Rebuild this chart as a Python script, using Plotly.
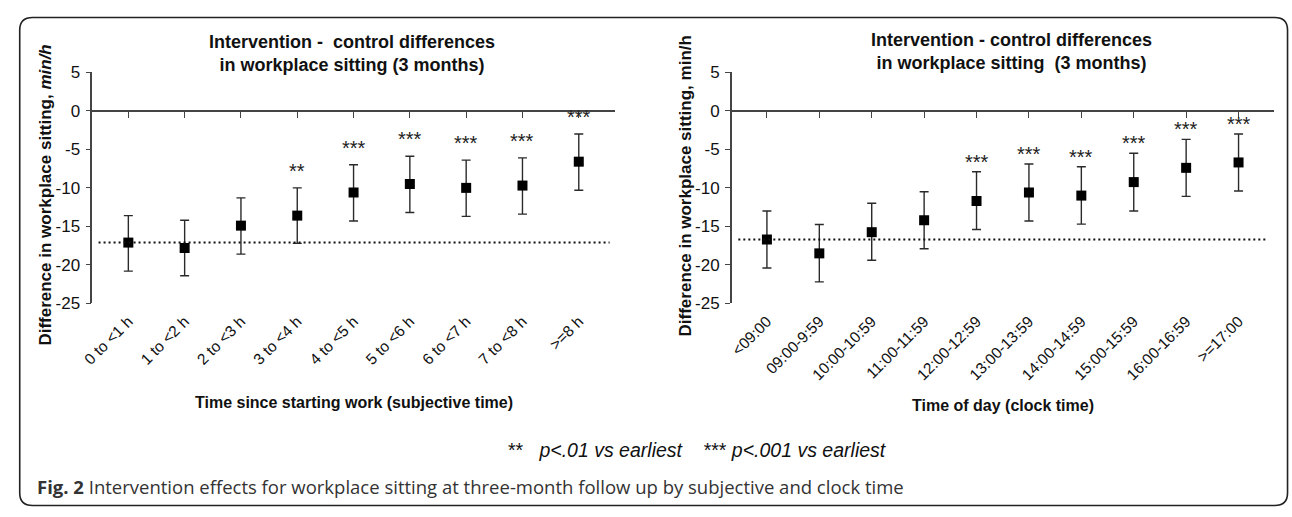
import plotly.graph_objects as go

# ---------------- data ----------------
left_cats = ["0 to <1 h", "1 to <2 h", "2 to <3 h", "3 to <4 h", "4 to <5 h",
             "5 to <6 h", "6 to <7 h", "7 to <8 h", ">=8 h"]
left_mean = [-17.1, -17.8, -14.9, -13.6, -10.6, -9.5, -10.0, -9.7, -6.6]
left_upper = [-13.6, -14.2, -11.3, -10.0, -7.0, -5.9, -6.4, -6.1, -3.0]
left_lower = [-20.8, -21.4, -18.6, -17.2, -14.3, -13.2, -13.7, -13.4, -10.3]
left_sig = ["", "", "", "**", "***", "***", "***", "***", "***"]

right_cats = ["<09:00", "09:00-9:59", "10:00-10:59", "11:00-11:59", "12:00-12:59",
              "13:00-13:59", "14:00-14:59", "15:00-15:59", "16:00-16:59", ">=17:00"]
right_mean = [-16.7, -18.5, -15.75, -14.2, -11.7, -10.6, -11.0, -9.25, -7.4, -6.7]
right_upper = [-13.0, -14.75, -12.0, -10.5, -7.9, -6.9, -7.25, -5.5, -3.7, -3.0]
right_lower = [-20.4, -22.2, -19.4, -17.9, -15.4, -14.3, -14.7, -13.0, -11.1, -10.4]
right_sig = ["", "", "", "", "***", "***", "***", "***", "***", "***"]

y_ticks = [-25, -20, -15, -10, -5, 0, 5]
y_ticklabels = ["-25", "-20", "-15", "-10", "-5", "0", "5"]

left_title = "Intervention -  control differences<br>in workplace sitting (3 months)"
right_title = "Intervention - control differences<br>in workplace sitting  (3 months)"
left_ytitle = "Difference in workplace sitting, <i>min/h</i>"
right_ytitle = "Difference in workplace sitting, min/h"
left_xtitle = "Time since starting work (subjective time)"
right_xtitle = "Time of day (clock time)"
note_text = "**   <i>p&lt;.01 vs earliest</i>    *** <i>p&lt;.001 vs earliest</i>"
caption_text = "<b>Fig. 2</b> Intervention effects for workplace sitting at three-month follow up by subjective and clock time"

# ---------------- layout geometry ----------------
W, H = 1292, 517
FONT = "Liberation Sans, Arial, Helvetica, sans-serif"
AX = "#444444"
EB = "#2a2a2a"


def px(x):
    return x / W


def py(y):
    return 1 - y / H


y_dom = [py(305.7), py(65.7)]
y_zero_pos = y_dom[0] + (0 - (-25)) / 30 * (y_dom[1] - y_dom[0])

panels = [
    dict(cats=left_cats, mean=left_mean, up=left_upper, lo=left_lower, sig=left_sig,
         xdom=[px(82), px(609)], pad=0.64, xa="x", xz="x3", ya="y",
         title=left_title, tx=344, ty=46, ytitle=left_ytitle, ytx=35, yty=193,
         xtitle=left_xtitle, xtx=346, xty=408, star_px=21),
    dict(cats=right_cats, mean=right_mean, up=right_upper, lo=right_lower, sig=right_sig,
         xdom=[px(727), px(1273.5)], pad=0.67, xa="x2", xz="x4", ya="y2",
         title=right_title, tx=1009, ty=44, ytitle=right_ytitle, ytx=680, yty=184,
         xtitle=right_xtitle, xtx=1001, xty=412, star_px=14),
]

fig = go.Figure()
annotations = []
shapes = []

for i, p in enumerate(panels):
    n = len(p["cats"])
    idx = list(range(n))
    xr = [-p["pad"], n - 1 + p["pad"]]
    err_plus = [u - m for u, m in zip(p["up"], p["mean"])]
    err_minus = [m - l for m, l in zip(p["mean"], p["lo"])]

    fig.add_trace(go.Scatter(
        x=idx, y=p["mean"], mode="markers", xaxis=p["xa"], yaxis=p["ya"],
        marker=dict(symbol="square", size=10, color="black"),
        error_y=dict(type="data", symmetric=False, array=err_plus, arrayminus=err_minus,
                     color=EB, thickness=1.4, width=4.5),
        showlegend=False, hoverinfo="skip", cliponaxis=False))
    # invisible trace to register the overlay (zero-line) axis
    fig.add_trace(go.Scatter(x=idx, y=[None] * n, mode="markers", xaxis=p["xz"],
                             yaxis=p["ya"], showlegend=False, hoverinfo="skip"))

    xkey = "xaxis" if p["xa"] == "x" else "xaxis" + p["xa"][1:]
    zkey = "xaxis" + p["xz"][1:]
    ykey = "yaxis" if p["ya"] == "y" else "yaxis" + p["ya"][1:]

    fig.layout[xkey] = dict(domain=p["xdom"], range=xr, anchor=p["ya"],
                            tickmode="array", tickvals=idx, ticktext=p["cats"],
                            tickangle=-45, ticks="", showline=False, showgrid=False,
                            zeroline=False, tickfont=dict(size=15.5, color="#111", family=FONT),
                            ticklabelstandoff=5)
    fig.layout[zkey] = dict(overlaying=p["xa"], anchor="free", position=y_zero_pos,
                            range=xr, tickmode="array", tickvals=idx,
                            showticklabels=False, ticks="outside", ticklen=6,
                            tickwidth=1.4, tickcolor=AX, showline=True, linecolor=AX,
                            linewidth=1.8, showgrid=False, zeroline=False)
    fig.layout[ykey] = dict(domain=y_dom, range=[-25, 5], anchor=p["xa"],
                            tickmode="array", tickvals=y_ticks, ticktext=y_ticklabels,
                            ticks="outside", ticklen=5, tickwidth=1.4, tickcolor=AX,
                            showline=True, linecolor=AX, linewidth=1.6,
                            showgrid=False, zeroline=False, ticklabelstandoff=2,
                            tickfont=dict(size=17, color="#111", family=FONT))

    # dotted reference line at the earliest value
    shapes.append(dict(type="line", xref=p["xa"] + " domain", yref=p["ya"],
                       x0=0.012, x1=0.99, y0=p["mean"][0], y1=p["mean"][0],
                       line=dict(color="#111", width=2, dash="2px,3px")))

    # significance stars
    for k in idx:
        if p["sig"][k]:
            annotations.append(dict(x=k, y=p["up"][k], xref=p["xa"], yref=p["ya"],
                                    text=p["sig"][k], showarrow=False, xanchor="center",
                                    yanchor="middle", yshift=p["star_px"] - 4,
                                    font=dict(size=20, color="#222", family=FONT)))

    # titles
    annotations.append(dict(x=px(p["tx"]), y=py(p["ty"]), xref="paper", yref="paper",
                            text=p["title"], showarrow=False, xanchor="center",
                            yanchor="middle",
                            font=dict(size=18, color="#111", family=FONT, weight="bold")))
    annotations.append(dict(x=px(p["ytx"]), y=py(p["yty"]), xref="paper", yref="paper",
                            text=p["ytitle"], showarrow=False, textangle=-90,
                            xanchor="center", yanchor="middle",
                            font=dict(size=17, color="#111", family=FONT, weight="bold")))
    annotations.append(dict(x=px(p["xtx"]), y=py(p["xty"]), xref="paper", yref="paper",
                            text=p["xtitle"], showarrow=False, xanchor="center",
                            yanchor="middle",
                            font=dict(size=16, color="#111", family=FONT, weight="bold")))

annotations.append(dict(x=px(692), y=py(458), xref="paper", yref="paper", text=note_text,
                        showarrow=False, xanchor="center", yanchor="middle",
                        font=dict(size=19.5, color="#111", family=FONT)))
annotations.append(dict(x=px(24), y=py(496), xref="paper", yref="paper", text=caption_text,
                        showarrow=False, xanchor="left", yanchor="middle",
                        font=dict(size=18.5, color="#333", family="Open Sans, Noto Sans, sans-serif")))

# rounded border around the figure
x0, x1, y0, y1, r = 8.8, 1287.5, 8.8, 515.5, 13
rx, ry = r / W, r / H
X0, X1, Y0, Y1 = px(x0), px(x1), py(y0), py(y1)
border = (f"M {X0 + rx} {Y0} L {X1 - rx} {Y0} Q {X1} {Y0} {X1} {Y0 - ry} "
          f"L {X1} {Y1 + ry} Q {X1} {Y1} {X1 - rx} {Y1} "
          f"L {X0 + rx} {Y1} Q {X0} {Y1} {X0} {Y1 + ry} "
          f"L {X0} {Y0 - ry} Q {X0} {Y0} {X0 + rx} {Y0} Z")
shapes.append(dict(type="path", xref="paper", yref="paper", path=border,
                   line=dict(color="#222", width=1.6)))

fig.update_layout(width=W, height=H, margin=dict(l=0, r=0, t=0, b=0),
                  paper_bgcolor="white", plot_bgcolor="white",
                  font=dict(family=FONT, color="#111"),
                  annotations=annotations, shapes=shapes, showlegend=False)

# let the 1292x517 figure fill the page exactly (no default body margin)
fig.write_html("out.html", config={"displayModeBar": False},
               post_script="document.body.style.margin='0';document.body.style.overflow='hidden';")
